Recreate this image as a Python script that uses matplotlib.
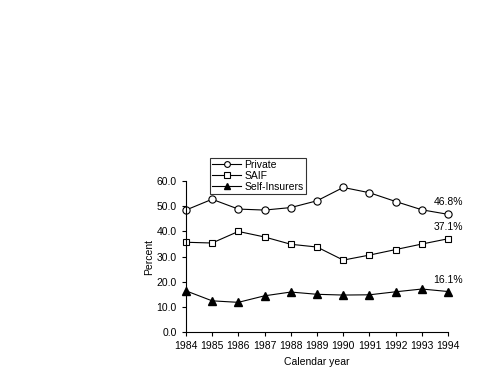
import numpy as np
import matplotlib
matplotlib.use("Agg")
import matplotlib.pyplot as plt

plt.rcParams['font.family'] = ['Liberation Sans', 'DejaVu Sans']

years = [1984, 1985, 1986, 1987, 1988, 1989, 1990, 1991, 1992, 1993, 1994]
private = [48.5, 52.8, 48.9, 48.5, 49.5, 52.2, 57.5, 55.4, 51.9, 48.6, 46.8]
saif = [35.7, 35.4, 40.0, 37.8, 34.9, 33.8, 28.6, 30.6, 32.8, 35.0, 37.1]
self_ins = [16.4, 12.4, 11.8, 14.4, 15.9, 15.0, 14.7, 14.8, 16.0, 17.1, 16.1]
end_labels = ['46.8%', '37.1%', '16.1%']

fig = plt.figure(figsize=(4.84, 3.72), dpi=100)
ax = fig.add_axes([0.384, 0.1075, 0.542, 0.4055])

ax.plot(years, private, color='black', lw=0.8, marker='o', ms=5.2,
        mfc='white', mec='black', mew=0.8, label='Private', clip_on=False)
ax.plot(years, saif, color='black', lw=0.8, marker='s', ms=4.8,
        mfc='white', mec='black', mew=0.8, label='SAIF', clip_on=False)
ax.plot(years, self_ins, color='black', lw=0.8, marker='^', ms=5.2,
        mfc='black', mec='black', label='Self-Insurers', clip_on=False)

for series, txt in zip([private, saif, self_ins], end_labels):
    ax.annotate(txt, (years[-1], series[-1]), xytext=(0, 5),
                textcoords='offset points', ha='center', va='bottom', fontsize=7.5)

ax.set_xlim(1984, 1994)
ax.set_ylim(0, 60)
ax.set_xticks(years)
ax.set_yticks(np.arange(0, 61, 10))
ax.set_yticklabels([f'{v:.1f}' for v in np.arange(0, 61, 10)])
ax.tick_params(labelsize=7.5, length=3, width=0.8, direction='out')
ax.spines['top'].set_visible(False)
ax.spines['right'].set_visible(False)
ax.set_xlabel('Calendar year', fontsize=7.5, labelpad=4)
ax.set_ylabel('Percent', fontsize=7.5, labelpad=2)

leg = fig.legend(loc='upper left', bbox_to_anchor=(0.434, 0.576), fontsize=7.5,
                 frameon=True, fancybox=False, edgecolor='black',
                 handlelength=2.8, handletextpad=0.3, borderpad=0.2,
                 labelspacing=0.1, borderaxespad=0, markerscale=0.8)
leg.get_frame().set_linewidth(0.8)

fig.savefig('out.png', dpi=100)
